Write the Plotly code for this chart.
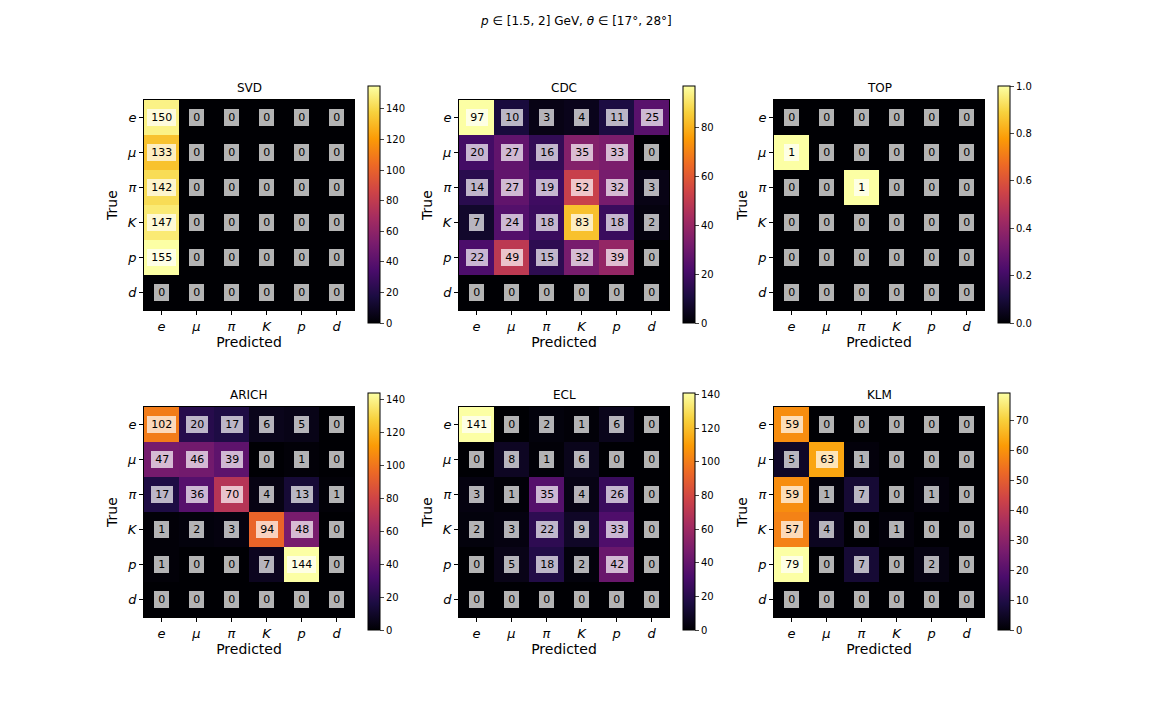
import plotly.graph_objects as go

# particle labels (true rows top -> bottom, predicted columns left -> right)
labels = ["e", "μ", "π", "K", "p", "d"]
detectors = ["SVD", "CDC", "TOP", "ARICH", "ECL", "KLM"]

svd = [[150, 0, 0, 0, 0, 0],
       [133, 0, 0, 0, 0, 0],
       [142, 0, 0, 0, 0, 0],
       [147, 0, 0, 0, 0, 0],
       [155, 0, 0, 0, 0, 0],
       [0, 0, 0, 0, 0, 0]]
cdc = [[97, 10, 3, 4, 11, 25],
       [20, 27, 16, 35, 33, 0],
       [14, 27, 19, 52, 32, 3],
       [7, 24, 18, 83, 18, 2],
       [22, 49, 15, 32, 39, 0],
       [0, 0, 0, 0, 0, 0]]
top = [[0, 0, 0, 0, 0, 0],
       [1, 0, 0, 0, 0, 0],
       [0, 0, 1, 0, 0, 0],
       [0, 0, 0, 0, 0, 0],
       [0, 0, 0, 0, 0, 0],
       [0, 0, 0, 0, 0, 0]]
arich = [[102, 20, 17, 6, 5, 0],
         [47, 46, 39, 0, 1, 0],
         [17, 36, 70, 4, 13, 1],
         [1, 2, 3, 94, 48, 0],
         [1, 0, 0, 7, 144, 0],
         [0, 0, 0, 0, 0, 0]]
ecl = [[141, 0, 2, 1, 6, 0],
       [0, 8, 1, 6, 0, 0],
       [3, 1, 35, 4, 26, 0],
       [2, 3, 22, 9, 33, 0],
       [0, 5, 18, 2, 42, 0],
       [0, 0, 0, 0, 0, 0]]
klm = [[59, 0, 0, 0, 0, 0],
       [5, 63, 1, 0, 0, 0],
       [59, 1, 7, 0, 1, 0],
       [57, 4, 0, 1, 0, 0],
       [79, 0, 7, 0, 2, 0],
       [0, 0, 0, 0, 0, 0]]
matrices = [svd, cdc, top, arich, ecl, klm]
cbar_dtick = [20, 20, 0.2, 20, 20, 10]

# 그림 크기 (픽셀) - 페이지 여백 8px 보정
W, H = 1152, 720
OFF = 8
FONT = "DejaVu Sans"
col_x = [144 - OFF, 459 - OFF, 774 - OFF]
row_y = [100 - OFF, 407 - OFF]
size = 210

fig = go.Figure()
layout = {}
annotations = []
idx = list(range(len(labels)))
ticktext = [f"<i>{l}</i>" for l in labels]

for k, (name, z) in enumerate(zip(detectors, matrices)):
    r, c = divmod(k, 3)
    n = "" if k == 0 else str(k + 1)
    x0 = col_x[c] / W
    x1 = (col_x[c] + size) / W
    y1 = 1 - row_y[r] / H
    y0 = 1 - (row_y[r] + size) / H
    zmax = max(max(row) for row in z)

    fig.add_trace(go.Heatmap(
        z=z, x=idx, y=idx,
        xaxis="x" + n, yaxis="y" + n,
        colorscale="Inferno", zmin=0, zmax=zmax,
        hoverinfo="skip",
        colorbar=dict(
            x=(col_x[c] + size + 14) / W, xanchor="left", xpad=0,
            y=1 - (row_y[r] - 14) / H, yanchor="top", ypad=0,
            len=237 / H, lenmode="fraction", thickness=12,
            outlinecolor="black", outlinewidth=1,
            ticks="outside", ticklen=4, dtick=cbar_dtick[k], tick0=0,
            tickformat=".1f" if zmax <= 1 else "d",
            tickfont=dict(family=FONT, size=10, color="black"),
        ),
    ))

    layout["xaxis" + n] = dict(
        domain=[x0, x1], anchor="y" + n,
        tickvals=idx, ticktext=ticktext, range=[-0.5, 5.5],
        ticks="outside", ticklen=4, tickcolor="black",
        showline=True, mirror=True, linecolor="black", linewidth=1,
        showgrid=False, zeroline=False,
        tickfont=dict(family=FONT, size=13, color="black"),
        title=dict(text="Predicted", standoff=4,
                   font=dict(family=FONT, size=14, color="black")),
    )
    layout["yaxis" + n] = dict(
        domain=[y0, y1], anchor="x" + n,
        tickvals=idx, ticktext=ticktext, range=[5.5, -0.5],
        ticks="outside", ticklen=4, tickcolor="black",
        showline=True, mirror=True, linecolor="black", linewidth=1,
        showgrid=False, zeroline=False,
        tickfont=dict(family=FONT, size=13, color="black"),
        title=dict(text="True", standoff=6,
                   font=dict(family=FONT, size=14, color="black")),
    )

    # 서브플롯 제목
    annotations.append(dict(
        text=name, xref="paper", yref="paper",
        x=(x0 + x1) / 2, y=y1, yshift=3, xanchor="center", yanchor="bottom",
        showarrow=False, font=dict(family=FONT, size=12, color="black"),
    ))

    # 셀 값 표시 (좌우 여백용 얇은 공백)
    for i, row in enumerate(z):
        for j, v in enumerate(row):
            annotations.append(dict(
                text=f"\u2009{v}\u2009", x=j, y=i, xref="x" + n, yref="y" + n,
                showarrow=False, bgcolor="rgba(255,255,255,0.7)",
                borderpad=2, borderwidth=0,
                font=dict(family=FONT, size=11, color="black"),
            ))

annotations.append(dict(
    text="<i>p</i> ∈ [1.5, 2] GeV, <i>θ</i> ∈ [17°, 28°]",
    xref="paper", yref="paper", x=(576 - OFF) / W, y=1 - (21 - OFF) / H,
    xanchor="center", yanchor="middle", showarrow=False,
    font=dict(family=FONT, size=12, color="black"),
))

fig.update_layout(
    **layout,
    annotations=annotations,
    width=W, height=H,
    margin=dict(l=0, r=0, t=0, b=0, autoexpand=False),
    paper_bgcolor="white", plot_bgcolor="white",
    showlegend=False,
    font=dict(family=FONT),
)

fig.write_html("out.html")
